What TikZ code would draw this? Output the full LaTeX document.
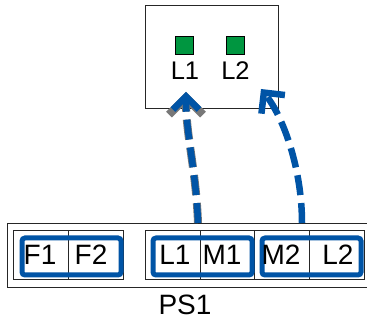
\documentclass[tikz,border=0pt]{standalone}
\usepackage{fontspec}
\setmainfont{Liberation Sans}
\usetikzlibrary{arrows.meta}
\definecolor{sblue}{RGB}{0,84,166}
\definecolor{sgreen}{RGB}{0,150,64}
\definecolor{sgrey}{RGB}{120,120,120}
\begin{document}
\begin{tikzpicture}[x=1pt,y=-1pt,
  box/.style={draw=black!85, line width=1pt, inner sep=0pt, anchor=north west},
  cell/.style={draw=black!85, line width=0.8pt, inner sep=0pt, anchor=north west, minimum height=49pt},
  led/.style={draw=black, line width=0.8pt, fill=sgreen, inner sep=0pt, minimum size=18pt, anchor=north west},
  pair/.style={draw=sblue, line width=5pt, rounded corners=3pt, inner sep=0pt, anchor=north west, minimum height=37pt},
  big/.style={font=\fontsize{28}{30}\selectfont, inner sep=0pt, anchor=base},
  small/.style={font=\fontsize{25.5}{28}\selectfont, inner sep=0pt, anchor=base},
  link/.style={draw=sblue, line width=6.5pt, dash pattern=on 20pt off 8pt},
  linkgrey/.style={draw=sgrey, line width=8pt, dash pattern=on 20pt off 8pt}
]
\useasboundingbox (0,0) rectangle (367,320);
\fill[white] (0,0) rectangle (367,320);

% top device
\node[box, line width=1.3pt, minimum width=133pt, minimum height=103pt] (dev) at (145,5) {};
\node[led] (g1) at (175,36) {};
\node[led] (g2) at (226,36) {};
\node[small] (tl1) at (185,80) {L1};
\node[small] (tl2) at (235.5,80) {L2};

% bottom strip
\node[box, minimum width=380pt, minimum height=64pt] (ps) at (7,223) {};
\node[cell, minimum width=55pt] (cf1) at (13,230) {};
\node[cell, minimum width=55pt] (cf2) at (68,230) {};
\node[cell, minimum width=55pt] (cl1) at (145,230) {};
\node[cell, minimum width=54pt] (cm1) at (200,230) {};
\node[cell, minimum width=55pt] (cm2) at (254,230) {};
\node[cell, minimum width=55pt] (cl2) at (309,230) {};

\node[pair, minimum width=99pt] (pf) at (19.5,235.5) {};
\node[pair, minimum width=99pt] (plm) at (150.5,235.5) {};
\node[pair, minimum width=99pt] (pml) at (259.5,235.5) {};

\node[big] (f1) at (40,265) {F1};
\node[big] (f2) at (91,265) {F2};
\node[big] (l1) at (175,265) {L1};
\node[big] (m1) at (222,265) {M1};
\node[big] (m2) at (281,265) {M2};
\node[big] (l2) at (338,265) {L2};
\node[big] (pslabel) at (185,315) {PS1};

% connectors
\coordinate (s1) at (198,223);
\coordinate (t1) at (186,92);
\coordinate (s2) at (302,223);
\coordinate (t2) at (261,89);

\draw[linkgrey, -{Straight Barb[sharp, length=17pt, width=34pt]}]
  (s1) .. controls (196,170) and (186,135) .. (t1);
\draw[link, -{Straight Barb[sharp, length=13pt, width=26pt]}]
  (s1) .. controls (196,170) and (186,135) .. (t1);
\draw[link, -{Straight Barb[sharp, length=15pt, width=30pt]}]
  (s2) .. controls (302,170) and (284,118) .. (t2);
\end{tikzpicture}
\end{document}
